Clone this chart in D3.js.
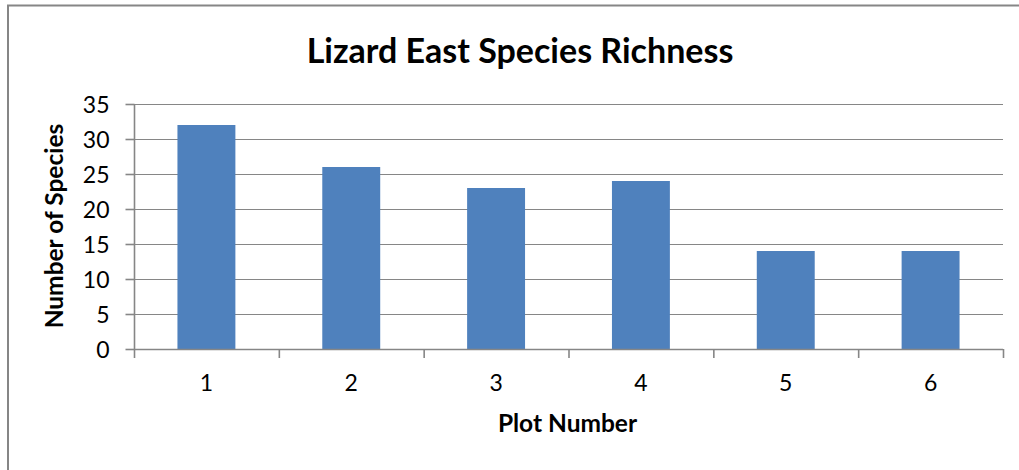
<!DOCTYPE html>
<html>
<head>
<meta charset="utf-8">
<script src="https://cdn.jsdelivr.net/npm/d3@7"></script>
<style>
html,body{margin:0;padding:0;background:#fff;}
svg{display:block;}
text{font-family:Lato,"Open Sans",sans-serif;fill:#000;}
</style>
</head>
<body>
<svg id="chart" width="1019" height="470"></svg>
<script>
const categories = ["1","2","3","4","5","6"];
const values = [32, 26, 23, 24, 14, 14];
const yTicks = [0,5,10,15,20,25,30,35];
const title = "Lizard East Species Richness";
const xTitle = "Plot Number";
const yTitle = "Number of Species";

(function(){
const svg = d3.select("#chart");
const W = 1019, H = 470;
const mLeft = 134, mRight = 1003, mTop = 104, mBottom = 349;

// outer border
svg.append("rect").attr("x",8).attr("y",5.5).attr("width",W+20).attr("height",H+20)
  .attr("fill","#fff").attr("stroke","#868686").attr("stroke-width",2);

const x = d3.scaleBand().domain(categories).range([mLeft,mRight]).paddingInner(0.6).paddingOuter(0.3);
const y = d3.scaleLinear().domain([0,35]).range([mBottom,mTop]);

// gridlines
svg.append("g").selectAll("line").data(yTicks.filter(d=>d>0)).join("line")
  .attr("x1",mLeft).attr("x2",mRight)
  .attr("y1",d=>Math.round(y(d))+0.5).attr("y2",d=>Math.round(y(d))+0.5)
  .attr("stroke","#868686").attr("stroke-width",1.2);

// bars
svg.append("g").selectAll("rect").data(values).join("rect")
  .attr("x",(d,i)=>x(categories[i]))
  .attr("width",x.bandwidth())
  .attr("y",d=>y(d))
  .attr("height",d=>y(0)-y(d))
  .attr("fill","#4F81BD");

// y axis
const yAxis = d3.axisLeft(y).tickValues(yTicks).tickSize(9).tickPadding(16).tickFormat(d3.format("d"));
const gy = svg.append("g").attr("transform",`translate(${mLeft+0.5},0)`).call(yAxis);
gy.select(".domain").attr("stroke","#868686").attr("stroke-width",1.6).attr("d",`M0,${mTop}V${mBottom}`);
gy.selectAll(".tick line").attr("stroke","#868686").attr("stroke-width",1.6);
gy.selectAll(".tick text").attr("font-size","23px").attr("font-family","Lato").attr("fill","#000").attr("dy","0.36em");

// x axis
const boundaries = d3.range(categories.length+1).map(i=>x.range()[0]+i*x.step());
const gx = svg.append("g");
gx.append("line").attr("x1",mLeft).attr("x2",mRight).attr("y1",mBottom+0.5).attr("y2",mBottom+0.5)
  .attr("stroke","#868686").attr("stroke-width",1.6);
gx.selectAll(".xt").data(boundaries).join("line").attr("class","xt")
  .attr("x1",d=>d+0.5).attr("x2",d=>d+0.5).attr("y1",mBottom).attr("y2",mBottom+9)
  .attr("stroke","#868686").attr("stroke-width",1.6);
gx.selectAll(".xl").data(categories).join("text").attr("class","xl")
  .attr("x",d=>x(d)+x.bandwidth()/2).attr("y",391)
  .attr("text-anchor","middle").attr("font-size","23px").text(d=>d);

// titles
svg.append("text").attr("x",520).attr("y",63).attr("text-anchor","middle")
  .attr("font-size","34px").attr("font-weight","bold").text(title);
svg.append("text").attr("x",567.5).attr("y",432).attr("text-anchor","middle")
  .attr("font-size","24.5px").attr("font-weight","bold").text(xTitle);
svg.append("text").attr("transform","translate(63,226) rotate(-90)").attr("text-anchor","middle")
  .attr("font-size","24.5px").attr("font-weight","bold").text(yTitle);
})();
</script>
</body>
</html>
